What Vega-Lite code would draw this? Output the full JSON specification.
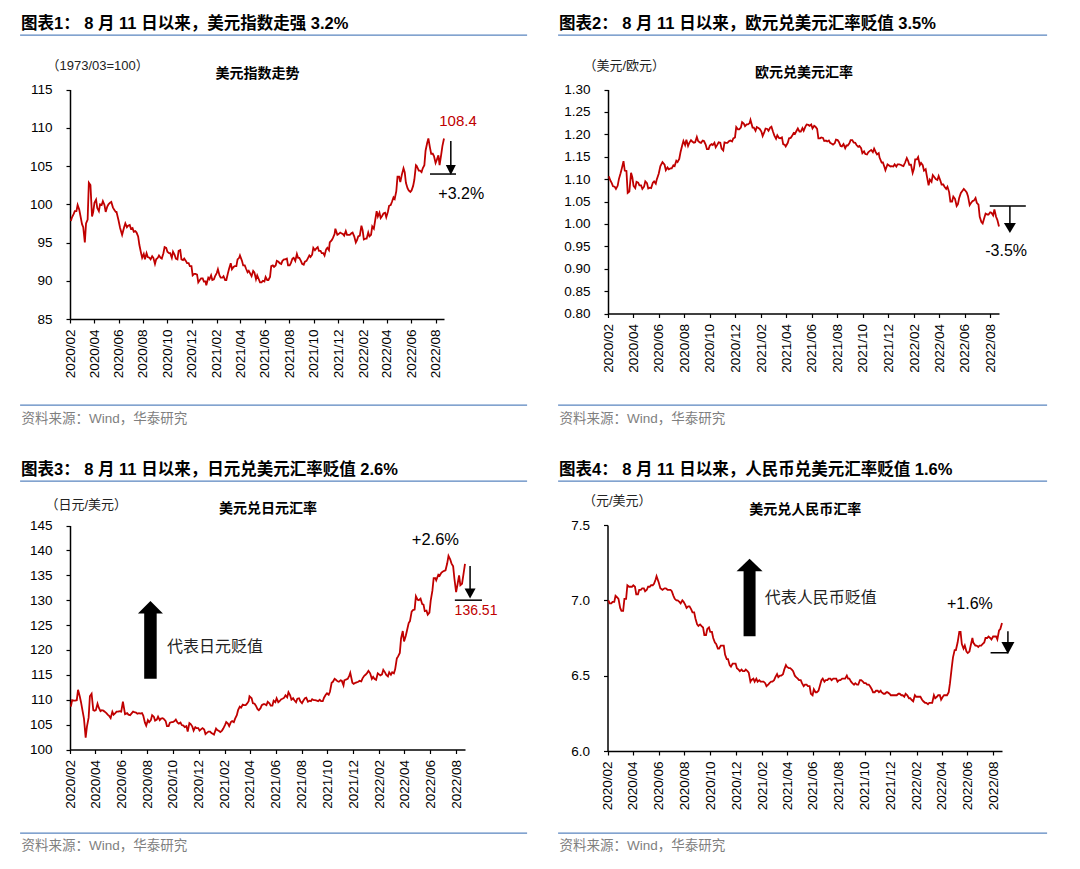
{
"$schema": "https://vega.github.io/schema/vega-lite/v6.json",
"padding": {"left": 19, "top": 14, "right": 10, "bottom": 10},
"columns": 2,
"spacing": {"row": 34, "column": 29},
"config": {
  "view": {"stroke": null},
  "font": "'Liberation Sans', 'Noto Sans CJK SC', sans-serif",
  "axis": {"grid": false, "domainColor": "#000000", "domainWidth": 1.5, "tickColor": "#000000", "tickWidth": 1.2, "tickSize": 4, "labelColor": "#000000", "labelFontSize": 13.5, "titleFontWeight": "normal"}
},
"datasets": {
"fx": [
{"date":"2020-02-03","dxy":97.8,"eur":1.106,"jpy":108.6,"cny":7.00},
{"date":"2020-02-10","dxy":98.7,"eur":1.091,"jpy":109.8,"cny":6.98},
{"date":"2020-02-17","dxy":99.1,"eur":1.083,"jpy":109.9,"cny":6.99},
{"date":"2020-02-20","dxy":99.9,"eur":1.078,"jpy":112.0,"cny":7.03},
{"date":"2020-02-24","dxy":99.3,"eur":1.085,"jpy":110.7,"cny":7.02},
{"date":"2020-03-02","dxy":97.4,"eur":1.113,"jpy":107.6,"cny":6.95},
{"date":"2020-03-09","dxy":95.0,"eur":1.140,"jpy":102.4,"cny":6.93},
{"date":"2020-03-12","dxy":97.5,"eur":1.119,"jpy":104.6,"cny":7.01},
{"date":"2020-03-16","dxy":98.0,"eur":1.118,"jpy":106.4,"cny":7.01},
{"date":"2020-03-19","dxy":102.8,"eur":1.069,"jpy":110.7,"cny":7.10},
{"date":"2020-03-23","dxy":102.5,"eur":1.072,"jpy":111.2,"cny":7.09},
{"date":"2020-03-27","dxy":98.4,"eur":1.114,"jpy":107.9,"cny":7.09},
{"date":"2020-03-30","dxy":99.0,"eur":1.104,"jpy":107.8,"cny":7.09},
{"date":"2020-04-06","dxy":100.6,"eur":1.080,"jpy":109.2,"cny":7.09},
{"date":"2020-04-13","dxy":99.1,"eur":1.092,"jpy":107.7,"cny":7.04},
{"date":"2020-04-20","dxy":99.9,"eur":1.086,"jpy":107.8,"cny":7.07},
{"date":"2020-04-27","dxy":99.9,"eur":1.083,"jpy":107.3,"cny":7.08},
{"date":"2020-05-04","dxy":99.7,"eur":1.091,"jpy":106.7,"cny":7.07},
{"date":"2020-05-11","dxy":100.2,"eur":1.081,"jpy":107.6,"cny":7.09},
{"date":"2020-05-18","dxy":99.6,"eur":1.092,"jpy":107.3,"cny":7.10},
{"date":"2020-05-25","dxy":99.0,"eur":1.090,"jpy":107.6,"cny":7.14},
{"date":"2020-05-27","dxy":99.0,"eur":1.098,"jpy":107.7,"cny":7.16},
{"date":"2020-06-01","dxy":97.9,"eur":1.112,"jpy":107.6,"cny":7.12},
{"date":"2020-06-05","dxy":96.9,"eur":1.129,"jpy":109.6,"cny":7.08},
{"date":"2020-06-10","dxy":96.0,"eur":1.138,"jpy":107.1,"cny":7.07},
{"date":"2020-06-15","dxy":97.0,"eur":1.132,"jpy":107.3,"cny":7.08},
{"date":"2020-06-22","dxy":97.0,"eur":1.126,"jpy":106.9,"cny":7.07},
{"date":"2020-06-29","dxy":97.3,"eur":1.124,"jpy":107.6,"cny":7.07},
{"date":"2020-07-06","dxy":96.9,"eur":1.131,"jpy":107.4,"cny":7.03},
{"date":"2020-07-13","dxy":96.5,"eur":1.141,"jpy":107.3,"cny":7.00},
{"date":"2020-07-20","dxy":95.8,"eur":1.145,"jpy":107.3,"cny":6.99},
{"date":"2020-07-27","dxy":93.7,"eur":1.175,"jpy":105.4,"cny":7.00},
{"date":"2020-08-03","dxy":93.5,"eur":1.176,"jpy":105.9,"cny":6.97},
{"date":"2020-08-10","dxy":93.6,"eur":1.174,"jpy":105.9,"cny":6.96},
{"date":"2020-08-17","dxy":93.0,"eur":1.187,"jpy":106.6,"cny":6.94},
{"date":"2020-08-24","dxy":93.2,"eur":1.181,"jpy":106.0,"cny":6.92},
{"date":"2020-08-31","dxy":92.2,"eur":1.194,"jpy":105.9,"cny":6.84},
{"date":"2020-09-07","dxy":93.0,"eur":1.182,"jpy":106.3,"cny":6.84},
{"date":"2020-09-14","dxy":93.0,"eur":1.186,"jpy":105.7,"cny":6.82},
{"date":"2020-09-21","dxy":93.6,"eur":1.177,"jpy":104.7,"cny":6.77},
{"date":"2020-09-28","dxy":94.3,"eur":1.167,"jpy":105.5,"cny":6.82},
{"date":"2020-10-05","dxy":93.6,"eur":1.178,"jpy":105.7,"cny":6.79},
{"date":"2020-10-12","dxy":93.0,"eur":1.181,"jpy":105.4,"cny":6.72},
{"date":"2020-10-19","dxy":93.4,"eur":1.177,"jpy":105.4,"cny":6.68},
{"date":"2020-10-26","dxy":92.8,"eur":1.181,"jpy":104.8,"cny":6.70},
{"date":"2020-11-02","dxy":94.0,"eur":1.164,"jpy":104.7,"cny":6.70},
{"date":"2020-11-09","dxy":92.7,"eur":1.181,"jpy":105.3,"cny":6.61},
{"date":"2020-11-16","dxy":92.6,"eur":1.185,"jpy":104.6,"cny":6.57},
{"date":"2020-11-23","dxy":92.3,"eur":1.184,"jpy":104.5,"cny":6.58},
{"date":"2020-11-30","dxy":91.9,"eur":1.193,"jpy":104.3,"cny":6.58},
{"date":"2020-12-07","dxy":90.9,"eur":1.211,"jpy":104.1,"cny":6.54},
{"date":"2020-12-14","dxy":90.8,"eur":1.215,"jpy":104.0,"cny":6.54},
{"date":"2020-12-21","dxy":90.1,"eur":1.224,"jpy":103.4,"cny":6.53},
{"date":"2020-12-28","dxy":90.3,"eur":1.222,"jpy":103.6,"cny":6.53},
{"date":"2021-01-04","dxy":89.9,"eur":1.225,"jpy":103.1,"cny":6.46},
{"date":"2021-01-06","dxy":89.4,"eur":1.232,"jpy":103.0,"cny":6.47},
{"date":"2021-01-11","dxy":90.4,"eur":1.215,"jpy":104.2,"cny":6.48},
{"date":"2021-01-18","dxy":90.7,"eur":1.208,"jpy":103.7,"cny":6.48},
{"date":"2021-01-25","dxy":90.2,"eur":1.214,"jpy":103.8,"cny":6.47},
{"date":"2021-02-01","dxy":91.0,"eur":1.206,"jpy":104.9,"cny":6.46},
{"date":"2021-02-08","dxy":90.7,"eur":1.205,"jpy":105.2,"cny":6.45},
{"date":"2021-02-15","dxy":90.4,"eur":1.212,"jpy":105.5,"cny":6.44},
{"date":"2021-02-22","dxy":90.1,"eur":1.215,"jpy":105.5,"cny":6.46},
{"date":"2021-03-01","dxy":91.0,"eur":1.205,"jpy":106.9,"cny":6.47},
{"date":"2021-03-08","dxy":92.3,"eur":1.190,"jpy":108.6,"cny":6.51},
{"date":"2021-03-15","dxy":91.8,"eur":1.192,"jpy":109.0,"cny":6.50},
{"date":"2021-03-22","dxy":91.9,"eur":1.193,"jpy":108.9,"cny":6.51},
{"date":"2021-03-29","dxy":93.0,"eur":1.176,"jpy":109.7,"cny":6.57},
{"date":"2021-03-31","dxy":93.3,"eur":1.173,"jpy":110.7,"cny":6.56},
{"date":"2021-04-05","dxy":92.6,"eur":1.181,"jpy":110.3,"cny":6.55},
{"date":"2021-04-12","dxy":92.0,"eur":1.192,"jpy":109.2,"cny":6.54},
{"date":"2021-04-19","dxy":91.1,"eur":1.203,"jpy":108.1,"cny":6.50},
{"date":"2021-04-26","dxy":90.9,"eur":1.208,"jpy":108.3,"cny":6.48},
{"date":"2021-05-03","dxy":91.3,"eur":1.206,"jpy":109.1,"cny":6.47},
{"date":"2021-05-10","dxy":90.2,"eur":1.214,"jpy":108.9,"cny":6.43},
{"date":"2021-05-17","dxy":90.2,"eur":1.217,"jpy":109.3,"cny":6.44},
{"date":"2021-05-24","dxy":89.8,"eur":1.221,"jpy":108.8,"cny":6.43},
{"date":"2021-05-31","dxy":89.9,"eur":1.222,"jpy":109.5,"cny":6.37},
{"date":"2021-06-07","dxy":90.1,"eur":1.219,"jpy":109.5,"cny":6.39},
{"date":"2021-06-14","dxy":90.5,"eur":1.212,"jpy":110.1,"cny":6.40},
{"date":"2021-06-17","dxy":91.9,"eur":1.191,"jpy":110.2,"cny":6.43},
{"date":"2021-06-21","dxy":92.0,"eur":1.191,"jpy":110.4,"cny":6.47},
{"date":"2021-06-28","dxy":92.0,"eur":1.192,"jpy":110.5,"cny":6.46},
{"date":"2021-07-05","dxy":92.5,"eur":1.186,"jpy":110.9,"cny":6.47},
{"date":"2021-07-12","dxy":92.2,"eur":1.186,"jpy":110.3,"cny":6.48},
{"date":"2021-07-19","dxy":92.8,"eur":1.179,"jpy":109.5,"cny":6.48},
{"date":"2021-07-26","dxy":92.9,"eur":1.180,"jpy":110.3,"cny":6.48},
{"date":"2021-08-02","dxy":92.0,"eur":1.187,"jpy":109.3,"cny":6.47},
{"date":"2021-08-09","dxy":92.9,"eur":1.174,"jpy":110.3,"cny":6.48},
{"date":"2021-08-16","dxy":92.6,"eur":1.178,"jpy":109.6,"cny":6.48},
{"date":"2021-08-20","dxy":93.5,"eur":1.169,"jpy":109.8,"cny":6.50},
{"date":"2021-08-23","dxy":93.0,"eur":1.175,"jpy":109.7,"cny":6.48},
{"date":"2021-08-30","dxy":92.6,"eur":1.180,"jpy":109.9,"cny":6.46},
{"date":"2021-09-06","dxy":92.1,"eur":1.187,"jpy":109.8,"cny":6.44},
{"date":"2021-09-13","dxy":92.6,"eur":1.181,"jpy":110.0,"cny":6.44},
{"date":"2021-09-20","dxy":93.3,"eur":1.172,"jpy":109.7,"cny":6.47},
{"date":"2021-09-27","dxy":93.4,"eur":1.169,"jpy":111.0,"cny":6.46},
{"date":"2021-09-30","dxy":94.3,"eur":1.158,"jpy":111.3,"cny":6.45},
{"date":"2021-10-04","dxy":94.0,"eur":1.162,"jpy":111.0,"cny":6.45},
{"date":"2021-10-11","dxy":94.4,"eur":1.155,"jpy":113.4,"cny":6.44},
{"date":"2021-10-18","dxy":93.9,"eur":1.163,"jpy":114.2,"cny":6.41},
{"date":"2021-10-25","dxy":93.6,"eur":1.160,"jpy":113.7,"cny":6.39},
{"date":"2021-11-01","dxy":94.1,"eur":1.160,"jpy":113.9,"cny":6.40},
{"date":"2021-11-08","dxy":94.0,"eur":1.158,"jpy":112.9,"cny":6.40},
{"date":"2021-11-10","dxy":95.0,"eur":1.148,"jpy":113.9,"cny":6.39},
{"date":"2021-11-15","dxy":95.3,"eur":1.137,"jpy":114.1,"cny":6.38},
{"date":"2021-11-22","dxy":96.1,"eur":1.126,"jpy":114.9,"cny":6.39},
{"date":"2021-11-24","dxy":96.8,"eur":1.120,"jpy":115.4,"cny":6.39},
{"date":"2021-11-29","dxy":96.0,"eur":1.133,"jpy":113.4,"cny":6.38},
{"date":"2021-12-06","dxy":96.3,"eur":1.128,"jpy":113.4,"cny":6.37},
{"date":"2021-12-13","dxy":96.1,"eur":1.128,"jpy":113.6,"cny":6.37},
{"date":"2021-12-20","dxy":96.5,"eur":1.128,"jpy":113.7,"cny":6.38},
{"date":"2021-12-27","dxy":96.0,"eur":1.133,"jpy":114.8,"cny":6.37},
{"date":"2022-01-03","dxy":96.2,"eur":1.130,"jpy":115.4,"cny":6.36},
{"date":"2022-01-10","dxy":95.8,"eur":1.137,"jpy":115.3,"cny":6.37},
{"date":"2022-01-14","dxy":95.0,"eur":1.147,"jpy":114.2,"cny":6.35},
{"date":"2022-01-17","dxy":95.3,"eur":1.141,"jpy":114.6,"cny":6.35},
{"date":"2022-01-24","dxy":95.9,"eur":1.132,"jpy":114.0,"cny":6.33},
{"date":"2022-01-28","dxy":97.2,"eur":1.114,"jpy":115.3,"cny":6.37},
{"date":"2022-01-31","dxy":96.6,"eur":1.123,"jpy":115.1,"cny":6.36},
{"date":"2022-02-07","dxy":95.5,"eur":1.144,"jpy":115.1,"cny":6.36},
{"date":"2022-02-10","dxy":95.5,"eur":1.149,"jpy":116.0,"cny":6.36},
{"date":"2022-02-14","dxy":96.3,"eur":1.131,"jpy":115.5,"cny":6.34},
{"date":"2022-02-21","dxy":96.0,"eur":1.131,"jpy":114.7,"cny":6.32},
{"date":"2022-02-28","dxy":96.8,"eur":1.122,"jpy":115.0,"cny":6.31},
{"date":"2022-03-07","dxy":99.1,"eur":1.086,"jpy":115.3,"cny":6.32},
{"date":"2022-03-14","dxy":98.9,"eur":1.094,"jpy":118.3,"cny":6.37},
{"date":"2022-03-21","dxy":98.5,"eur":1.104,"jpy":119.4,"cny":6.36},
{"date":"2022-03-28","dxy":98.9,"eur":1.098,"jpy":123.8,"cny":6.37},
{"date":"2022-03-31","dxy":98.3,"eur":1.107,"jpy":121.7,"cny":6.34},
{"date":"2022-04-04","dxy":99.0,"eur":1.097,"jpy":122.8,"cny":6.36},
{"date":"2022-04-11","dxy":99.9,"eur":1.088,"jpy":125.4,"cny":6.37},
{"date":"2022-04-18","dxy":100.9,"eur":1.078,"jpy":127.7,"cny":6.39},
{"date":"2022-04-25","dxy":101.7,"eur":1.071,"jpy":128.1,"cny":6.55},
{"date":"2022-04-28","dxy":103.6,"eur":1.050,"jpy":130.8,"cny":6.62},
{"date":"2022-05-02","dxy":103.6,"eur":1.050,"jpy":130.1,"cny":6.67},
{"date":"2022-05-09","dxy":103.9,"eur":1.056,"jpy":130.3,"cny":6.72},
{"date":"2022-05-13","dxy":104.7,"eur":1.040,"jpy":129.2,"cny":6.79},
{"date":"2022-05-16","dxy":104.2,"eur":1.044,"jpy":129.1,"cny":6.79},
{"date":"2022-05-23","dxy":102.1,"eur":1.069,"jpy":127.9,"cny":6.68},
{"date":"2022-05-30","dxy":101.6,"eur":1.078,"jpy":127.5,"cny":6.66},
{"date":"2022-06-06","dxy":102.4,"eur":1.070,"jpy":131.9,"cny":6.66},
{"date":"2022-06-13","dxy":105.1,"eur":1.042,"jpy":134.4,"cny":6.75},
{"date":"2022-06-15","dxy":105.0,"eur":1.045,"jpy":134.0,"cny":6.72},
{"date":"2022-06-20","dxy":104.4,"eur":1.051,"jpy":135.1,"cny":6.70},
{"date":"2022-06-27","dxy":104.2,"eur":1.058,"jpy":135.5,"cny":6.69},
{"date":"2022-07-04","dxy":105.1,"eur":1.043,"jpy":135.9,"cny":6.70},
{"date":"2022-07-11","dxy":108.0,"eur":1.004,"jpy":137.4,"cny":6.72},
{"date":"2022-07-14","dxy":108.6,"eur":1.001,"jpy":138.9,"cny":6.75},
{"date":"2022-07-18","dxy":107.4,"eur":1.014,"jpy":138.2,"cny":6.75},
{"date":"2022-07-25","dxy":106.6,"eur":1.021,"jpy":136.8,"cny":6.75},
{"date":"2022-08-01","dxy":105.4,"eur":1.026,"jpy":131.6,"cny":6.76},
{"date":"2022-08-08","dxy":106.4,"eur":1.019,"jpy":135.0,"cny":6.76},
{"date":"2022-08-11","dxy":105.1,"eur":1.032,"jpy":133.0,"cny":6.74},
{"date":"2022-08-15","dxy":106.5,"eur":1.016,"jpy":133.3,"cny":6.80},
{"date":"2022-08-22","dxy":108.6,"eur":0.994,"jpy":137.3,"cny":6.85},
{"date":"2020-02-06","dxy":98.3,"eur":1.098,"jpy":109.9,"cny":6.98},
{"date":"2020-02-13","dxy":99.1,"eur":1.084,"jpy":109.8,"cny":6.99},
{"date":"2020-02-27","dxy":98.5,"eur":1.100,"jpy":109.5,"cny":7.01},
{"date":"2020-03-05","dxy":97.0,"eur":1.124,"jpy":106.2,"cny":6.93},
{"date":"2020-04-02","dxy":100.2,"eur":1.085,"jpy":107.9,"cny":7.10},
{"date":"2020-04-09","dxy":99.5,"eur":1.094,"jpy":108.4,"cny":7.04},
{"date":"2020-04-16","dxy":100.0,"eur":1.086,"jpy":107.9,"cny":7.07},
{"date":"2020-04-23","dxy":100.4,"eur":1.078,"jpy":107.6,"cny":7.08},
{"date":"2020-04-30","dxy":99.0,"eur":1.095,"jpy":107.0,"cny":7.06},
{"date":"2020-05-07","dxy":100.0,"eur":1.079,"jpy":106.3,"cny":7.09},
{"date":"2020-05-14","dxy":100.3,"eur":1.080,"jpy":107.0,"cny":7.10},
{"date":"2020-05-21","dxy":99.3,"eur":1.095,"jpy":107.6,"cny":7.11},
{"date":"2020-06-18","dxy":97.5,"eur":1.120,"jpy":107.0,"cny":7.08},
{"date":"2020-06-25","dxy":97.2,"eur":1.122,"jpy":107.2,"cny":7.07},
{"date":"2020-07-02","dxy":96.8,"eur":1.124,"jpy":107.5,"cny":7.06},
{"date":"2020-07-09","dxy":96.4,"eur":1.129,"jpy":107.2,"cny":7.01},
{"date":"2020-07-16","dxy":96.3,"eur":1.138,"jpy":107.2,"cny":7.00},
{"date":"2020-07-23","dxy":94.7,"eur":1.160,"jpy":106.8,"cny":6.98},
{"date":"2020-07-30","dxy":93.0,"eur":1.185,"jpy":104.8,"cny":6.99},
{"date":"2020-08-06","dxy":92.8,"eur":1.188,"jpy":105.5,"cny":6.95},
{"date":"2020-08-13","dxy":93.1,"eur":1.181,"jpy":106.9,"cny":6.96},
{"date":"2020-08-20","dxy":92.8,"eur":1.184,"jpy":105.8,"cny":6.92},
{"date":"2020-08-27","dxy":93.0,"eur":1.182,"jpy":106.6,"cny":6.88},
{"date":"2020-09-03","dxy":92.8,"eur":1.185,"jpy":106.2,"cny":6.83},
{"date":"2020-09-10","dxy":93.3,"eur":1.181,"jpy":106.1,"cny":6.83},
{"date":"2020-09-17","dxy":92.9,"eur":1.185,"jpy":104.7,"cny":6.77},
{"date":"2020-09-24","dxy":94.4,"eur":1.167,"jpy":105.4,"cny":6.81},
{"date":"2020-10-01","dxy":93.8,"eur":1.175,"jpy":105.5,"cny":6.79},
{"date":"2020-10-08","dxy":93.6,"eur":1.176,"jpy":106.0,"cny":6.75},
{"date":"2020-10-15","dxy":93.8,"eur":1.171,"jpy":105.2,"cny":6.71},
{"date":"2020-10-22","dxy":92.9,"eur":1.182,"jpy":104.9,"cny":6.68},
{"date":"2020-10-29","dxy":93.9,"eur":1.168,"jpy":104.5,"cny":6.70},
{"date":"2020-11-05","dxy":92.8,"eur":1.182,"jpy":103.6,"cny":6.64},
{"date":"2020-11-12","dxy":92.9,"eur":1.181,"jpy":105.1,"cny":6.61},
{"date":"2020-11-19","dxy":92.3,"eur":1.186,"jpy":103.8,"cny":6.56},
{"date":"2020-11-26","dxy":91.9,"eur":1.191,"jpy":104.3,"cny":6.58},
{"date":"2020-12-03","dxy":90.7,"eur":1.216,"jpy":103.8,"cny":6.55},
{"date":"2020-12-10","dxy":90.9,"eur":1.211,"jpy":104.3,"cny":6.53},
{"date":"2020-12-17","dxy":89.8,"eur":1.227,"jpy":103.1,"cny":6.53},
{"date":"2020-12-24","dxy":90.3,"eur":1.218,"jpy":103.6,"cny":6.54},
{"date":"2020-12-31","dxy":89.9,"eur":1.222,"jpy":103.3,"cny":6.52},
{"date":"2021-01-14","dxy":90.2,"eur":1.215,"jpy":103.9,"cny":6.46},
{"date":"2021-01-21","dxy":90.1,"eur":1.216,"jpy":103.5,"cny":6.46},
{"date":"2021-01-28","dxy":90.6,"eur":1.212,"jpy":104.2,"cny":6.46},
{"date":"2021-02-04","dxy":91.5,"eur":1.196,"jpy":105.5,"cny":6.46},
{"date":"2021-02-11","dxy":90.4,"eur":1.213,"jpy":104.7,"cny":6.43},
{"date":"2021-02-18","dxy":90.6,"eur":1.208,"jpy":105.7,"cny":6.45},
{"date":"2021-02-25","dxy":90.1,"eur":1.217,"jpy":106.2,"cny":6.46},
{"date":"2021-03-04","dxy":91.6,"eur":1.197,"jpy":107.9,"cny":6.49},
{"date":"2021-03-11","dxy":91.5,"eur":1.198,"jpy":108.4,"cny":6.49},
{"date":"2021-03-18","dxy":91.9,"eur":1.191,"jpy":108.9,"cny":6.50},
{"date":"2021-03-25","dxy":92.8,"eur":1.178,"jpy":109.2,"cny":6.54},
{"date":"2021-04-08","dxy":92.0,"eur":1.191,"jpy":109.3,"cny":6.55},
{"date":"2021-04-15","dxy":91.6,"eur":1.196,"jpy":108.8,"cny":6.53},
{"date":"2021-04-22","dxy":91.3,"eur":1.201,"jpy":107.9,"cny":6.49},
{"date":"2021-04-29","dxy":90.6,"eur":1.213,"jpy":108.9,"cny":6.47},
{"date":"2021-05-06","dxy":91.1,"eur":1.206,"jpy":109.1,"cny":6.45},
{"date":"2021-05-13","dxy":90.7,"eur":1.208,"jpy":109.6,"cny":6.44},
{"date":"2021-05-20","dxy":89.8,"eur":1.222,"jpy":108.8,"cny":6.43},
{"date":"2021-05-27","dxy":90.0,"eur":1.219,"jpy":109.8,"cny":6.38},
{"date":"2021-06-03","dxy":90.5,"eur":1.213,"jpy":110.3,"cny":6.41},
{"date":"2021-06-10","dxy":90.1,"eur":1.217,"jpy":109.7,"cny":6.39},
{"date":"2021-06-24","dxy":91.8,"eur":1.193,"jpy":110.9,"cny":6.48},
{"date":"2021-07-01","dxy":92.6,"eur":1.185,"jpy":111.5,"cny":6.47},
{"date":"2021-07-08","dxy":92.3,"eur":1.184,"jpy":110.0,"cny":6.48},
{"date":"2021-07-15","dxy":92.6,"eur":1.181,"jpy":109.9,"cny":6.47},
{"date":"2021-07-22","dxy":92.8,"eur":1.177,"jpy":110.2,"cny":6.48},
{"date":"2021-07-29","dxy":92.0,"eur":1.188,"jpy":109.7,"cny":6.46},
{"date":"2021-08-05","dxy":92.3,"eur":1.183,"jpy":109.8,"cny":6.47},
{"date":"2021-08-12","dxy":93.0,"eur":1.173,"jpy":110.4,"cny":6.48},
{"date":"2021-08-26","dxy":93.0,"eur":1.175,"jpy":110.1,"cny":6.48},
{"date":"2021-09-02","dxy":92.2,"eur":1.187,"jpy":109.9,"cny":6.45},
{"date":"2021-09-09","dxy":92.5,"eur":1.182,"jpy":109.7,"cny":6.45},
{"date":"2021-09-16","dxy":92.9,"eur":1.176,"jpy":109.7,"cny":6.44},
{"date":"2021-09-23","dxy":93.1,"eur":1.174,"jpy":110.4,"cny":6.47},
{"date":"2021-10-07","dxy":94.2,"eur":1.156,"jpy":111.6,"cny":6.44},
{"date":"2021-10-14","dxy":93.9,"eur":1.160,"jpy":113.6,"cny":6.43},
{"date":"2021-10-21","dxy":93.6,"eur":1.165,"jpy":114.0,"cny":6.39},
{"date":"2021-10-28","dxy":93.3,"eur":1.168,"jpy":113.6,"cny":6.40},
{"date":"2021-11-04","dxy":94.3,"eur":1.155,"jpy":113.8,"cny":6.39},
{"date":"2021-11-18","dxy":95.6,"eur":1.137,"jpy":114.2,"cny":6.38},
{"date":"2021-12-02","dxy":96.1,"eur":1.131,"jpy":113.2,"cny":6.37},
{"date":"2021-12-09","dxy":96.2,"eur":1.129,"jpy":113.5,"cny":6.37},
{"date":"2021-12-16","dxy":95.9,"eur":1.133,"jpy":113.8,"cny":6.37},
{"date":"2021-12-23","dxy":96.0,"eur":1.133,"jpy":114.3,"cny":6.38},
{"date":"2021-12-30","dxy":96.0,"eur":1.132,"jpy":115.0,"cny":6.37},
{"date":"2022-01-06","dxy":96.3,"eur":1.129,"jpy":115.8,"cny":6.38},
{"date":"2022-01-20","dxy":95.8,"eur":1.132,"jpy":114.2,"cny":6.34},
{"date":"2022-02-03","dxy":95.4,"eur":1.144,"jpy":114.9,"cny":6.36},
{"date":"2022-02-17","dxy":95.8,"eur":1.136,"jpy":115.0,"cny":6.33},
{"date":"2022-02-24","dxy":97.1,"eur":1.119,"jpy":115.5,"cny":6.32},
{"date":"2022-03-03","dxy":97.8,"eur":1.106,"jpy":115.5,"cny":6.32},
{"date":"2022-03-10","dxy":98.4,"eur":1.099,"jpy":116.1,"cny":6.32},
{"date":"2022-03-17","dxy":98.2,"eur":1.109,"jpy":118.7,"cny":6.35},
{"date":"2022-03-24","dxy":98.8,"eur":1.100,"jpy":122.3,"cny":6.37},
{"date":"2022-04-07","dxy":99.8,"eur":1.088,"jpy":123.9,"cny":6.37},
{"date":"2022-04-14","dxy":100.3,"eur":1.083,"jpy":125.8,"cny":6.37},
{"date":"2022-04-21","dxy":100.7,"eur":1.083,"jpy":128.0,"cny":6.45},
{"date":"2022-05-05","dxy":102.9,"eur":1.061,"jpy":130.0,"cny":6.67},
{"date":"2022-05-19","dxy":102.8,"eur":1.058,"jpy":127.8,"cny":6.71},
{"date":"2022-05-26","dxy":101.8,"eur":1.073,"jpy":127.1,"cny":6.70},
{"date":"2022-06-02","dxy":101.8,"eur":1.075,"jpy":129.9,"cny":6.65},
{"date":"2022-06-09","dxy":103.2,"eur":1.062,"jpy":134.4,"cny":6.70},
{"date":"2022-06-23","dxy":104.4,"eur":1.052,"jpy":134.9,"cny":6.70},
{"date":"2022-06-30","dxy":104.7,"eur":1.047,"jpy":135.7,"cny":6.70},
{"date":"2022-07-07","dxy":107.0,"eur":1.016,"jpy":136.0,"cny":6.71},
{"date":"2022-07-21","dxy":106.6,"eur":1.023,"jpy":137.4,"cny":6.76},
{"date":"2022-07-28","dxy":106.3,"eur":1.021,"jpy":134.3,"cny":6.74},
{"date":"2022-08-04","dxy":105.8,"eur":1.025,"jpy":133.0,"cny":6.76},
{"date":"2022-08-18","dxy":107.6,"eur":1.009,"jpy":135.0,"cny":6.81}
]
},
"concat": [
{
 "width": 507, "height": 370,
 "view": {"stroke": "#5A85C0", "strokeWidth": 1.4, "strokeDash": [507, 370]},
 "title": {"text": "图表1：\u00a08 月 11 日以来，美元指数走强 3.2%", "anchor": "start", "frame": "group", "dx": 1, "offset": 3, "fontSize": 16.5, "fontWeight": "bold", "color": "#000000"},
 "resolve": {"axis": {"x": "independent", "y": "independent"}},
 "layer": [
  {"data": {"name": "fx"}, "mark": {"type": "line", "color": "#C00000", "strokeWidth": 1.8},
   "encoding": {
    "x": {"field": "date", "type": "temporal", "scale": {"domain": [{"year":2020,"month":2,"date":1},{"year":2022,"month":8,"date":22}], "range": [50, 424]},
      "axis": {"orient": "bottom", "offset": -86, "values": [{"year":2020,"month":2,"date":1},{"year":2020,"month":4,"date":1},{"year":2020,"month":6,"date":1},{"year":2020,"month":8,"date":1},{"year":2020,"month":10,"date":1},{"year":2020,"month":12,"date":1},{"year":2021,"month":2,"date":1},{"year":2021,"month":4,"date":1},{"year":2021,"month":6,"date":1},{"year":2021,"month":8,"date":1},{"year":2021,"month":10,"date":1},{"year":2021,"month":12,"date":1},{"year":2022,"month":2,"date":1},{"year":2022,"month":4,"date":1},{"year":2022,"month":6,"date":1},{"year":2022,"month":8,"date":1}], "format": "%Y/%m", "labelAngle": 270, "labelPadding": 6, "labelOverlap": false, "labelFlush": false,
        "title": "资料来源：Wind，华泰研究", "titleX": 1, "titleY": 99, "titleAlign": "left", "titleBaseline": "middle", "titleAngle": 0, "titleFontSize": 13.5, "titleColor": "#7F7F7F"}},
    "y": {"field": "dxy", "type": "quantitative", "scale": {"domain": [85, 115], "range": [284, 54.5], "nice": false, "zero": false},
      "axis": {"orient": "left", "offset": -50, "values": [85,90,95,100,105,110,115], "labelPadding": 14, "title": "（1973/03=100）", "titleAngle": 0, "titleX": -24, "titleY": 30, "titleAlign": "left", "titleBaseline": "middle", "titleFontSize": 13, "titleColor": "#222222"}}
   }},
  {"data": {"values": [{"d":"2022-09-08","v":108.27,"d2":"2022-09-08","v2":105.1},{"d":"2022-07-18","v":103.95,"d2":"2022-09-21","v2":103.95}]},
   "mark": {"type": "rule", "color": "#000000", "strokeWidth": 1.5},
   "encoding": {
    "x": {"field": "d", "type": "temporal", "scale": {"domain": [{"year":2020,"month":2,"date":1},{"year":2022,"month":8,"date":22}], "range": [50, 424]},
      "axis": {"orient": "top", "labels": false, "ticks": false, "domain": false, "title": "美元指数走势", "titleY": 38, "titleBaseline": "middle", "titleFontSize": 14, "titleFontWeight": "bold", "titleColor": "#000000"}},
    "x2": {"field": "d2"},
    "y": {"field": "v", "type": "quantitative", "scale": {"domain": [85, 115], "range": [284, 54.5], "nice": false, "zero": false}, "axis": null},
    "y2": {"field": "v2"}
   }},
  {"data": {"values": [{"d":"2022-09-08","v":104.48}]},
   "mark": {"type": "point", "shape": "M-1,-1L1,-1L0,1Z", "size": 100, "filled": true, "color": "#000000", "opacity": 1},
   "encoding": {
    "x": {"field": "d", "type": "temporal", "scale": {"domain": [{"year":2020,"month":2,"date":1},{"year":2022,"month":8,"date":22}], "range": [50, 424]}, "axis": null},
    "y": {"field": "v", "type": "quantitative", "scale": {"domain": [85, 115], "range": [284, 54.5], "nice": false, "zero": false}, "axis": null}
   }},
  {"data": {"values": [{"d":"2022-09-26","v":110.9,"t":"108.4"}]},
   "mark": {"type": "text", "fontSize": 15, "color": "#C00000", "align": "center", "baseline": "middle"},
   "encoding": {
    "x": {"field": "d", "type": "temporal", "scale": {"domain": [{"year":2020,"month":2,"date":1},{"year":2022,"month":8,"date":22}], "range": [50, 424]}, "axis": null},
    "y": {"field": "v", "type": "quantitative", "scale": {"domain": [85, 115], "range": [284, 54.5], "nice": false, "zero": false}, "axis": null},
    "text": {"field": "t"}
   }},
  {"data": {"values": [{"d":"2022-10-04","v":101.4,"t":"+3.2%"}]},
   "mark": {"type": "text", "fontSize": 16, "color": "#000000", "align": "center", "baseline": "middle"},
   "encoding": {
    "x": {"field": "d", "type": "temporal", "scale": {"domain": [{"year":2020,"month":2,"date":1},{"year":2022,"month":8,"date":22}], "range": [50, 424]}, "axis": null},
    "y": {"field": "v", "type": "quantitative", "scale": {"domain": [85, 115], "range": [284, 54.5], "nice": false, "zero": false}, "axis": null},
    "text": {"field": "t"}
   }}
 ]
},
{
 "width": 489, "height": 370,
 "view": {"stroke": "#5A85C0", "strokeWidth": 1.4, "strokeDash": [489, 370]},
 "title": {"text": "图表2：\u00a08 月 11 日以来，欧元兑美元汇率贬值 3.5%", "anchor": "start", "frame": "group", "dx": 1, "offset": 3, "fontSize": 16.5, "fontWeight": "bold", "color": "#000000"},
 "resolve": {"axis": {"x": "independent", "y": "independent"}},
 "layer": [
  {"data": {"name": "fx"}, "mark": {"type": "line", "color": "#C00000", "strokeWidth": 1.8},
   "encoding": {
    "x": {"field": "date", "type": "temporal", "scale": {"domain": [{"year":2020,"month":2,"date":1},{"year":2022,"month":8,"date":22}], "range": [50, 441]},
      "axis": {"orient": "bottom", "offset": -91.5, "values": [{"year":2020,"month":2,"date":1},{"year":2020,"month":4,"date":1},{"year":2020,"month":6,"date":1},{"year":2020,"month":8,"date":1},{"year":2020,"month":10,"date":1},{"year":2020,"month":12,"date":1},{"year":2021,"month":2,"date":1},{"year":2021,"month":4,"date":1},{"year":2021,"month":6,"date":1},{"year":2021,"month":8,"date":1},{"year":2021,"month":10,"date":1},{"year":2021,"month":12,"date":1},{"year":2022,"month":2,"date":1},{"year":2022,"month":4,"date":1},{"year":2022,"month":6,"date":1},{"year":2022,"month":8,"date":1}], "format": "%Y/%m", "labelAngle": 270, "labelPadding": 6, "labelOverlap": false, "labelFlush": false,
        "title": "资料来源：Wind，华泰研究", "titleX": 1, "titleY": 104.5, "titleAlign": "left", "titleBaseline": "middle", "titleAngle": 0, "titleFontSize": 13.5, "titleColor": "#7F7F7F"}},
    "y": {"field": "eur", "type": "quantitative", "scale": {"domain": [0.8, 1.3], "range": [278.5, 54.5], "nice": false, "zero": false},
      "axis": {"orient": "left", "offset": -50, "values": [0.8,0.85,0.9,0.95,1.0,1.05,1.1,1.15,1.2,1.25,1.3], "format": ".2f", "labelPadding": 14, "title": "（美元/欧元）", "titleAngle": 0, "titleX": -25, "titleY": 30, "titleAlign": "left", "titleBaseline": "middle", "titleFontSize": 13, "titleColor": "#222222"}}
   }},
  {"data": {"values": [{"d":"2022-09-17","v":1.040,"d2":"2022-09-17","v2":1.002},{"d":"2022-07-31","v":1.040,"d2":"2022-10-25","v2":1.040}]},
   "mark": {"type": "rule", "color": "#000000", "strokeWidth": 1.5},
   "encoding": {
    "x": {"field": "d", "type": "temporal", "scale": {"domain": [{"year":2020,"month":2,"date":1},{"year":2022,"month":8,"date":22}], "range": [50, 441]},
      "axis": {"orient": "top", "labels": false, "ticks": false, "domain": false, "title": "欧元兑美元汇率", "titleY": 37, "titleBaseline": "middle", "titleFontSize": 14, "titleFontWeight": "bold", "titleColor": "#000000"}},
    "x2": {"field": "d2"},
    "y": {"field": "v", "type": "quantitative", "scale": {"domain": [0.8, 1.3], "range": [278.5, 54.5], "nice": false, "zero": false}, "axis": null},
    "y2": {"field": "v2"}
   }},
  {"data": {"values": [{"d":"2022-09-17","v":0.991}]},
   "mark": {"type": "point", "shape": "M-1,-0.83L1,-0.83L0,0.83Z", "size": 144, "filled": true, "color": "#000000", "opacity": 1},
   "encoding": {
    "x": {"field": "d", "type": "temporal", "scale": {"domain": [{"year":2020,"month":2,"date":1},{"year":2022,"month":8,"date":22}], "range": [50, 441]}, "axis": null},
    "y": {"field": "v", "type": "quantitative", "scale": {"domain": [0.8, 1.3], "range": [278.5, 54.5], "nice": false, "zero": false}, "axis": null}
   }},
  {"data": {"values": [{"d":"2022-09-08","v":0.939,"t":"-3.5%"}]},
   "mark": {"type": "text", "fontSize": 16, "color": "#000000", "align": "center", "baseline": "middle"},
   "encoding": {
    "x": {"field": "d", "type": "temporal", "scale": {"domain": [{"year":2020,"month":2,"date":1},{"year":2022,"month":8,"date":22}], "range": [50, 441]}, "axis": null},
    "y": {"field": "v", "type": "quantitative", "scale": {"domain": [0.8, 1.3], "range": [278.5, 54.5], "nice": false, "zero": false}, "axis": null},
    "text": {"field": "t"}
   }}
 ]
},
{
 "width": 507, "height": 352,
 "view": {"stroke": "#5A85C0", "strokeWidth": 1.4, "strokeDash": [507, 352]},
 "title": {"text": "图表3：\u00a08 月 11 日以来，日元兑美元汇率贬值 2.6%", "anchor": "start", "frame": "group", "dx": 1, "offset": 3, "fontSize": 16.5, "fontWeight": "bold", "color": "#000000"},
 "resolve": {"axis": {"x": "independent", "y": "independent"}},
 "layer": [
  {"data": {"name": "fx"}, "mark": {"type": "line", "color": "#C00000", "strokeWidth": 1.8},
   "encoding": {
    "x": {"field": "date", "type": "temporal", "scale": {"domain": [{"year":2020,"month":2,"date":1},{"year":2022,"month":8,"date":22}], "range": [50, 445]},
      "axis": {"orient": "bottom", "offset": -83.5, "values": [{"year":2020,"month":2,"date":1},{"year":2020,"month":4,"date":1},{"year":2020,"month":6,"date":1},{"year":2020,"month":8,"date":1},{"year":2020,"month":10,"date":1},{"year":2020,"month":12,"date":1},{"year":2021,"month":2,"date":1},{"year":2021,"month":4,"date":1},{"year":2021,"month":6,"date":1},{"year":2021,"month":8,"date":1},{"year":2021,"month":10,"date":1},{"year":2021,"month":12,"date":1},{"year":2022,"month":2,"date":1},{"year":2022,"month":4,"date":1},{"year":2022,"month":6,"date":1},{"year":2022,"month":8,"date":1}], "format": "%Y/%m", "labelAngle": 270, "labelPadding": 6, "labelOverlap": false, "labelFlush": false,
        "title": "资料来源：Wind，华泰研究", "titleX": 1, "titleY": 95.5, "titleAlign": "left", "titleBaseline": "middle", "titleAngle": 0, "titleFontSize": 13.5, "titleColor": "#7F7F7F"}},
    "y": {"field": "jpy", "type": "quantitative", "scale": {"domain": [100, 145], "range": [268.5, 44.5], "nice": false, "zero": false},
      "axis": {"orient": "left", "offset": -50, "values": [100,105,110,115,120,125,130,135,140,145], "labelPadding": 14, "title": "（日元/美元）", "titleAngle": 0, "titleX": -25, "titleY": 23, "titleAlign": "left", "titleBaseline": "middle", "titleFontSize": 13, "titleColor": "#222222"}}
   }},
  {"data": {"values": [{"d":"2022-09-03","v":136.86,"d2":"2022-09-03","v2":132.1},{"d":"2022-07-29","v":130.0,"d2":"2022-10-01","v2":130.0}]},
   "mark": {"type": "rule", "color": "#000000", "strokeWidth": 1.5},
   "encoding": {
    "x": {"field": "d", "type": "temporal", "scale": {"domain": [{"year":2020,"month":2,"date":1},{"year":2022,"month":8,"date":22}], "range": [50, 445]},
      "axis": {"orient": "top", "labels": false, "ticks": false, "domain": false, "title": "美元兑日元汇率", "titleY": 27, "titleBaseline": "middle", "titleFontSize": 14, "titleFontWeight": "bold", "titleColor": "#000000"}},
    "x2": {"field": "d2"},
    "y": {"field": "v", "type": "quantitative", "scale": {"domain": [100, 145], "range": [268.5, 44.5], "nice": false, "zero": false}, "axis": null},
    "y2": {"field": "v2"}
   }},
  {"data": {"values": [{"d":"2022-09-03","v":131.35}]},
   "mark": {"type": "point", "shape": "M-1,-0.91L1,-0.91L0,0.91Z", "size": 121, "filled": true, "color": "#000000", "opacity": 1},
   "encoding": {
    "x": {"field": "d", "type": "temporal", "scale": {"domain": [{"year":2020,"month":2,"date":1},{"year":2022,"month":8,"date":22}], "range": [50, 445]}, "axis": null},
    "y": {"field": "v", "type": "quantitative", "scale": {"domain": [100, 145], "range": [268.5, 44.5], "nice": false, "zero": false}, "axis": null}
   }},
  {"data": {"values": [{"d":"2020-08-09","v":114.2,"v2":127.6}]},
   "mark": {"type": "rule", "color": "#000000", "strokeWidth": 12.5, "strokeCap": "butt"},
   "encoding": {
    "x": {"field": "d", "type": "temporal", "scale": {"domain": [{"year":2020,"month":2,"date":1},{"year":2022,"month":8,"date":22}], "range": [50, 445]}, "axis": null},
    "y": {"field": "v", "type": "quantitative", "scale": {"domain": [100, 145], "range": [268.5, 44.5], "nice": false, "zero": false}, "axis": null},
    "y2": {"field": "v2"}
   }},
  {"data": {"values": [{"d":"2020-08-09","v":128.57}]},
   "mark": {"type": "point", "shape": "M0,-0.5L1,0.5L-1,0.5Z", "size": 625, "filled": true, "color": "#000000", "opacity": 1},
   "encoding": {
    "x": {"field": "d", "type": "temporal", "scale": {"domain": [{"year":2020,"month":2,"date":1},{"year":2022,"month":8,"date":22}], "range": [50, 445]}, "axis": null},
    "y": {"field": "v", "type": "quantitative", "scale": {"domain": [100, 145], "range": [268.5, 44.5], "nice": false, "zero": false}, "axis": null}
   }},
  {"data": {"values": [{"d":"2020-09-17","v":120.6,"t":"代表日元贬值"}]},
   "mark": {"type": "text", "fontSize": 16, "font": "Noto Sans CJK SC", "color": "#222222", "align": "left", "baseline": "middle"},
   "encoding": {
    "x": {"field": "d", "type": "temporal", "scale": {"domain": [{"year":2020,"month":2,"date":1},{"year":2022,"month":8,"date":22}], "range": [50, 445]}, "axis": null},
    "y": {"field": "v", "type": "quantitative", "scale": {"domain": [100, 145], "range": [268.5, 44.5], "nice": false, "zero": false}, "axis": null},
    "text": {"field": "t"}
   }},
  {"data": {"values": [{"d":"2022-06-13","v":142.0,"t":"+2.6%"}]},
   "mark": {"type": "text", "fontSize": 16.5, "color": "#000000", "align": "center", "baseline": "middle"},
   "encoding": {
    "x": {"field": "d", "type": "temporal", "scale": {"domain": [{"year":2020,"month":2,"date":1},{"year":2022,"month":8,"date":22}], "range": [50, 445]}, "axis": null},
    "y": {"field": "v", "type": "quantitative", "scale": {"domain": [100, 145], "range": [268.5, 44.5], "nice": false, "zero": false}, "axis": null},
    "text": {"field": "t"}
   }},
  {"data": {"values": [{"d":"2022-09-17","v":127.9,"t":"136.51"}]},
   "mark": {"type": "text", "fontSize": 14, "color": "#C00000", "align": "center", "baseline": "middle"},
   "encoding": {
    "x": {"field": "d", "type": "temporal", "scale": {"domain": [{"year":2020,"month":2,"date":1},{"year":2022,"month":8,"date":22}], "range": [50, 445]}, "axis": null},
    "y": {"field": "v", "type": "quantitative", "scale": {"domain": [100, 145], "range": [268.5, 44.5], "nice": false, "zero": false}, "axis": null},
    "text": {"field": "t"}
   }}
 ]
},
{
 "width": 489, "height": 352,
 "view": {"stroke": "#5A85C0", "strokeWidth": 1.4, "strokeDash": [489, 352]},
 "title": {"text": "图表4：\u00a08 月 11 日以来，人民币兑美元汇率贬值 1.6%", "anchor": "start", "frame": "group", "dx": 1, "offset": 3, "fontSize": 16.5, "fontWeight": "bold", "color": "#000000"},
 "resolve": {"axis": {"x": "independent", "y": "independent"}},
 "layer": [
  {"data": {"name": "fx"}, "mark": {"type": "line", "color": "#C00000", "strokeWidth": 1.8},
   "encoding": {
    "x": {"field": "date", "type": "temporal", "scale": {"domain": [{"year":2020,"month":2,"date":1},{"year":2022,"month":8,"date":22}], "range": [49.5, 444]},
      "axis": {"orient": "bottom", "offset": -82, "values": [{"year":2020,"month":2,"date":1},{"year":2020,"month":4,"date":1},{"year":2020,"month":6,"date":1},{"year":2020,"month":8,"date":1},{"year":2020,"month":10,"date":1},{"year":2020,"month":12,"date":1},{"year":2021,"month":2,"date":1},{"year":2021,"month":4,"date":1},{"year":2021,"month":6,"date":1},{"year":2021,"month":8,"date":1},{"year":2021,"month":10,"date":1},{"year":2021,"month":12,"date":1},{"year":2022,"month":2,"date":1},{"year":2022,"month":4,"date":1},{"year":2022,"month":6,"date":1},{"year":2022,"month":8,"date":1}], "format": "%Y/%m", "labelAngle": 270, "labelPadding": 6, "labelOverlap": false, "labelFlush": false,
        "title": "资料来源：Wind，华泰研究", "titleX": 1, "titleY": 94, "titleAlign": "left", "titleBaseline": "middle", "titleAngle": 0, "titleFontSize": 13.5, "titleColor": "#7F7F7F"}},
    "y": {"field": "cny", "type": "quantitative", "scale": {"domain": [6.0, 7.5], "range": [270, 44], "nice": false, "zero": false},
      "axis": {"orient": "left", "offset": -49.5, "values": [6.0,6.5,7.0,7.5], "format": ".1f", "labelPadding": 14, "title": "（元/美元）", "titleAngle": 0, "titleX": -25, "titleY": 19, "titleAlign": "left", "titleBaseline": "middle", "titleFontSize": 13, "titleColor": "#222222"}}
   }},
  {"data": {"values": [{"d":"2022-09-05","v":6.794,"d2":"2022-09-05","v2":6.72},{"d":"2022-07-26","v":6.652,"d2":"2022-09-06","v2":6.652}]},
   "mark": {"type": "rule", "color": "#000000", "strokeWidth": 1.5},
   "encoding": {
    "x": {"field": "d", "type": "temporal", "scale": {"domain": [{"year":2020,"month":2,"date":1},{"year":2022,"month":8,"date":22}], "range": [49.5, 444]},
      "axis": {"orient": "top", "labels": false, "ticks": false, "domain": false, "title": "美元兑人民币汇率", "titleY": 28, "titleBaseline": "middle", "titleFontSize": 14, "titleFontWeight": "bold", "titleColor": "#000000"}},
    "x2": {"field": "d2"},
    "y": {"field": "v", "type": "quantitative", "scale": {"domain": [6.0, 7.5], "range": [270, 44], "nice": false, "zero": false}, "axis": null},
    "y2": {"field": "v2"}
   }},
  {"data": {"values": [{"d":"2022-09-05","v":6.684}]},
   "mark": {"type": "point", "shape": "M-1,-0.92L1,-0.92L0,0.92Z", "size": 169, "filled": true, "color": "#000000", "opacity": 1},
   "encoding": {
    "x": {"field": "d", "type": "temporal", "scale": {"domain": [{"year":2020,"month":2,"date":1},{"year":2022,"month":8,"date":22}], "range": [49.5, 444]}, "axis": null},
    "y": {"field": "v", "type": "quantitative", "scale": {"domain": [6.0, 7.5], "range": [270, 44], "nice": false, "zero": false}, "axis": null}
   }},
  {"data": {"values": [{"d":"2021-01-02","v":6.761,"v2":7.20}]},
   "mark": {"type": "rule", "color": "#000000", "strokeWidth": 12, "strokeCap": "butt"},
   "encoding": {
    "x": {"field": "d", "type": "temporal", "scale": {"domain": [{"year":2020,"month":2,"date":1},{"year":2022,"month":8,"date":22}], "range": [49.5, 444]}, "axis": null},
    "y": {"field": "v", "type": "quantitative", "scale": {"domain": [6.0, 7.5], "range": [270, 44], "nice": false, "zero": false}, "axis": null},
    "y2": {"field": "v2"}
   }},
  {"data": {"values": [{"d":"2021-01-02","v":7.2345}]},
   "mark": {"type": "point", "shape": "M0,-0.48L1,0.48L-1,0.48Z", "size": 676, "filled": true, "color": "#000000", "opacity": 1},
   "encoding": {
    "x": {"field": "d", "type": "temporal", "scale": {"domain": [{"year":2020,"month":2,"date":1},{"year":2022,"month":8,"date":22}], "range": [49.5, 444]}, "axis": null},
    "y": {"field": "v", "type": "quantitative", "scale": {"domain": [6.0, 7.5], "range": [270, 44], "nice": false, "zero": false}, "axis": null}
   }},
  {"data": {"values": [{"d":"2021-02-07","v":7.015,"t":"代表人民币贬值"}]},
   "mark": {"type": "text", "fontSize": 16, "font": "Noto Sans CJK SC", "color": "#222222", "align": "left", "baseline": "middle"},
   "encoding": {
    "x": {"field": "d", "type": "temporal", "scale": {"domain": [{"year":2020,"month":2,"date":1},{"year":2022,"month":8,"date":22}], "range": [49.5, 444]}, "axis": null},
    "y": {"field": "v", "type": "quantitative", "scale": {"domain": [6.0, 7.5], "range": [270, 44], "nice": false, "zero": false}, "axis": null},
    "text": {"field": "t"}
   }},
  {"data": {"values": [{"d":"2022-06-07","v":6.975,"t":"+1.6%"}]},
   "mark": {"type": "text", "fontSize": 16, "color": "#000000", "align": "center", "baseline": "middle"},
   "encoding": {
    "x": {"field": "d", "type": "temporal", "scale": {"domain": [{"year":2020,"month":2,"date":1},{"year":2022,"month":8,"date":22}], "range": [49.5, 444]}, "axis": null},
    "y": {"field": "v", "type": "quantitative", "scale": {"domain": [6.0, 7.5], "range": [270, 44], "nice": false, "zero": false}, "axis": null},
    "text": {"field": "t"}
   }}
 ]
}
]
}
